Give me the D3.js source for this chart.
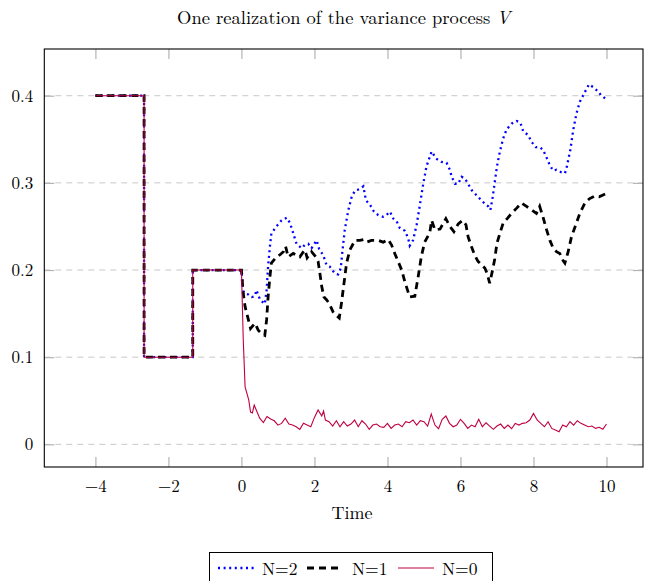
<!DOCTYPE html>
<html>
<head>
<meta charset="utf-8">
<script src="https://cdn.jsdelivr.net/npm/d3@7"></script>
<style>
  html, body { margin: 0; padding: 0; background: #fff; }
  svg { display: block; }
  text { font-family: "Latin Modern Roman", "CMU Serif", "Liberation Serif", serif; fill: #000; }
</style>
</head>
<body>
<svg id="chart" width="645" height="581"></svg>
<script>
// ---- data ----
const titleText = "One realization of the variance process ";
const xLabel = "Time";
const xTicks = [-4, -2, 0, 2, 4, 6, 8, 10];
const yTicks = [0, 0.1, 0.2, 0.3, 0.4];
const seriesNames = ["N=2", "N=1", "N=0"];

// shared piecewise-constant part (t <= 0)
const stepPoints = [[-4, 0.4], [-8/3, 0.4], [-8/3, 0.1], [-4/3, 0.1], [-4/3, 0.2], [0, 0.2]];

const pointsN2 = [
  [0.00,0.200],[0.05,0.176],[0.10,0.173],[0.19,0.172],[0.28,0.169],[0.37,0.170],[0.41,0.177],
  [0.51,0.166],[0.64,0.161],[0.69,0.177],[0.73,0.204],[0.78,0.227],[0.82,0.242],[0.96,0.250],
  [1.10,0.257],[1.24,0.260],[1.33,0.254],[1.42,0.242],[1.51,0.230],[1.65,0.225],[1.74,0.229],
  [1.83,0.230],[1.92,0.225],[2.06,0.234],[2.13,0.224],[2.24,0.217],[2.33,0.206],[2.42,0.204],
  [2.56,0.196],[2.65,0.195],[2.72,0.202],[2.77,0.223],[2.83,0.246],[2.93,0.269],[3.02,0.284],
  [3.11,0.291],[3.25,0.293],[3.34,0.296],[3.41,0.280],[3.52,0.275],[3.63,0.267],[3.75,0.263],
  [3.88,0.261],[3.97,0.263],[4.07,0.267],[4.16,0.259],[4.25,0.256],[4.34,0.248],[4.48,0.245],
  [4.57,0.236],[4.61,0.228],[4.70,0.234],[4.80,0.252],[4.89,0.275],[4.98,0.299],[5.07,0.319],
  [5.21,0.336],[5.33,0.328],[5.48,0.324],[5.62,0.323],[5.71,0.315],[5.76,0.307],[5.85,0.299],
  [5.94,0.299],[6.03,0.307],[6.12,0.305],[6.21,0.299],[6.30,0.292],[6.39,0.288],[6.48,0.284],
  [6.62,0.278],[6.69,0.275],[6.76,0.273],[6.82,0.269],[6.88,0.283],[6.94,0.301],[7.00,0.319],
  [7.08,0.336],[7.17,0.351],[7.26,0.361],[7.40,0.368],[7.54,0.371],[7.64,0.369],[7.72,0.359],
  [7.85,0.355],[7.95,0.347],[8.06,0.341],[8.17,0.341],[8.26,0.338],[8.36,0.329],[8.45,0.320],
  [8.54,0.314],[8.63,0.315],[8.77,0.312],[8.86,0.311],[8.90,0.316],[8.95,0.326],[9.01,0.338],
  [9.09,0.361],[9.18,0.380],[9.27,0.393],[9.38,0.402],[9.52,0.413],[9.63,0.410],[9.77,0.405],
  [9.86,0.400],[10.0,0.396]
];

const pointsN1 = [
  [0.00,0.200],[0.05,0.173],[0.10,0.158],[0.19,0.143],[0.25,0.133],[0.37,0.139],[0.46,0.131],
  [0.55,0.127],[0.64,0.125],[0.69,0.143],[0.73,0.169],[0.78,0.192],[0.82,0.208],[0.92,0.213],
  [1.04,0.217],[1.15,0.221],[1.21,0.227],[1.28,0.215],[1.42,0.219],[1.51,0.217],[1.60,0.215],
  [1.68,0.220],[1.74,0.223],[1.80,0.214],[1.92,0.221],[2.04,0.215],[2.10,0.210],[2.15,0.196],
  [2.20,0.181],[2.26,0.169],[2.33,0.166],[2.40,0.162],[2.51,0.152],[2.60,0.148],[2.68,0.145],
  [2.74,0.162],[2.81,0.185],[2.88,0.208],[2.97,0.223],[3.11,0.234],[3.25,0.234],[3.34,0.235],
  [3.43,0.232],[3.56,0.234],[3.75,0.234],[3.88,0.232],[4.02,0.235],[4.11,0.229],[4.20,0.219],
  [4.29,0.210],[4.39,0.200],[4.48,0.186],[4.61,0.169],[4.75,0.170],[4.84,0.192],[4.93,0.216],
  [5.02,0.232],[5.16,0.243],[5.21,0.257],[5.30,0.246],[5.44,0.247],[5.60,0.259],[5.71,0.250],
  [5.82,0.244],[5.94,0.253],[6.06,0.257],[6.15,0.252],[6.21,0.238],[6.30,0.227],[6.39,0.217],
  [6.48,0.210],[6.58,0.206],[6.67,0.202],[6.73,0.196],[6.80,0.185],[6.88,0.200],[6.94,0.213],
  [7.00,0.231],[7.08,0.242],[7.17,0.254],[7.28,0.259],[7.40,0.265],[7.54,0.271],[7.67,0.277],
  [7.81,0.273],[7.95,0.269],[8.08,0.265],[8.17,0.273],[8.26,0.261],[8.36,0.246],[8.45,0.234],
  [8.54,0.225],[8.63,0.221],[8.72,0.219],[8.81,0.211],[8.86,0.208],[8.95,0.221],[9.04,0.238],
  [9.16,0.252],[9.27,0.265],[9.41,0.277],[9.54,0.282],[9.68,0.285],[9.80,0.284],[9.95,0.287],
  [10.0,0.288]
];

const pointsN0 = [
  [0.00,0.200],[0.05,0.120],[0.10,0.066],[0.20,0.051],[0.25,0.037],[0.30,0.036],[0.35,0.045],
  [0.40,0.040],[0.50,0.030],[0.60,0.025],[0.70,0.032],[0.80,0.029],[0.90,0.027],[1.0,0.022],
  [1.1,0.024],[1.2,0.030],[1.3,0.0233],[1.4,0.0221],[1.5,0.0202],[1.6,0.0172],[1.7,0.0241],
  [1.8,0.0221],[1.9,0.0202],[2.0,0.0309],[2.1,0.0394],[2.2,0.0325],[2.25,0.0382],[2.3,0.0279],
  [2.4,0.0260],[2.5,0.0210],[2.6,0.0271],[2.7,0.0202],[2.8,0.0260],[2.9,0.0210],[3.0,0.0233],
  [3.1,0.0279],[3.2,0.0202],[3.3,0.0271],[3.4,0.0233],[3.5,0.0172],[3.6,0.0221],[3.7,0.0233],
  [3.8,0.0202],[3.9,0.0195],[4.0,0.0241],[4.1,0.0183],[4.2,0.0221],[4.3,0.0233],[4.4,0.0202],
  [4.5,0.0260],[4.6,0.0248],[4.7,0.0279],[4.8,0.0221],[4.9,0.0271],[5.0,0.0260],[5.1,0.0210],
  [5.2,0.0348],[5.3,0.0221],[5.4,0.0179],[5.5,0.0287],[5.6,0.0325],[5.7,0.0241],[5.8,0.0202],
  [5.9,0.0221],[6.0,0.0287],[6.1,0.0241],[6.2,0.0183],[6.3,0.0221],[6.4,0.0202],[6.5,0.0287],
  [6.6,0.0202],[6.7,0.0248],[6.8,0.0210],[6.9,0.0172],[7.0,0.0210],[7.1,0.0233],[7.2,0.0183],
  [7.3,0.0221],[7.4,0.0179],[7.5,0.0241],[7.6,0.0221],[7.7,0.0241],[7.8,0.0248],[7.9,0.0279],
  [8.0,0.0355],[8.1,0.0279],[8.2,0.0241],[8.3,0.0202],[8.4,0.0260],[8.5,0.0183],[8.6,0.0164],
  [8.7,0.0145],[8.8,0.0221],[8.9,0.0202],[9.0,0.0260],[9.1,0.0221],[9.2,0.0271],[9.3,0.0241],
  [9.4,0.0221],[9.5,0.0202],[9.6,0.0210],[9.7,0.0183],[9.8,0.0195],[9.9,0.0172],[10.0,0.0233]
];

// ---- layout ----
const L = 44.3, R = 643, T = 49, B = 467;
const svg = d3.select("#chart");
const fontStack = '"Latin Modern Roman","CMU Serif","Liberation Serif",serif';

const x = d3.scaleLinear().domain([-5.4, 11]).range([L, R]);
const y = d3.scaleLinear().domain([-0.026, 0.4536]).range([B, T]);

// grid
svg.append("g").selectAll("line").data(yTicks).join("line")
  .attr("x1", L).attr("x2", R)
  .attr("y1", d => y(d)).attr("y2", d => y(d))
  .attr("stroke", "#c8c8c8").attr("stroke-width", 1)
  .attr("stroke-dasharray", "6 5");

const tickColor = "#b4b4b4";
function styleAxis(g) {
  g.select(".domain").remove();
  g.selectAll(".tick line").attr("stroke", tickColor).attr("stroke-width", 1.2);
  g.selectAll(".tick text")
    .style("font-family", fontStack)
    .style("font-size", "17px").attr("fill", "#000");
}

svg.append("g").attr("transform", `translate(0,${B})`)
  .call(d3.axisBottom(x).tickValues(xTicks).tickSizeInner(-10).tickSizeOuter(0).tickPadding(13))
  .call(styleAxis);
svg.append("g").attr("transform", `translate(0,${T})`)
  .call(d3.axisTop(x).tickValues(xTicks).tickSizeInner(-10).tickSizeOuter(0).tickFormat(""))
  .call(styleAxis);
svg.append("g").attr("transform", `translate(${L},0)`)
  .call(d3.axisLeft(y).tickValues(yTicks).tickSizeInner(-10).tickSizeOuter(0).tickPadding(11)
        .tickFormat(d => d === 0 ? "0" : d3.format(".1f")(d)))
  .call(styleAxis);
svg.append("g").attr("transform", `translate(${R},0)`)
  .call(d3.axisRight(y).tickValues(yTicks).tickSizeInner(-10).tickSizeOuter(0).tickFormat(""))
  .call(styleAxis);

// frame
svg.append("rect").attr("x", L).attr("y", T).attr("width", R - L).attr("height", B - T)
  .attr("fill", "none").attr("stroke", "#000").attr("stroke-width", 1.1);

// lines
const line = d3.line().x(d => x(d[0])).y(d => y(d[1]));
const styles = [
  { color: "#0000ff", width: 2.3, dash: "2 3.6" },
  { color: "#000000", width: 2.8, dash: "7 5" },
  { color: "#bf0040", width: 1.1, dash: null }
];
const allSeries = [
  stepPoints.concat(pointsN2.slice(1)),
  stepPoints.concat(pointsN1.slice(1)),
  stepPoints.concat(pointsN0.slice(1))
];
allSeries.forEach((pts, i) => {
  const s = styles[i];
  svg.append("path").datum(pts)
    .attr("d", line)
    .attr("fill", "none")
    .attr("stroke", s.color)
    .attr("stroke-width", s.width)
    .attr("stroke-linejoin", "miter")
    .attr("stroke-dasharray", s.dash);
});

// title
const title = svg.append("text").attr("x", (L + R) / 2).attr("y", 24)
  .attr("text-anchor", "middle").style("font-size", "18.5px");
title.append("tspan").text(titleText);
title.append("tspan").style("font-style", "italic").text("V");

// x label
svg.append("text").attr("x", 352).attr("y", 519)
  .attr("text-anchor", "middle").style("font-size", "18px").text(xLabel);

// legend
const lg = svg.append("g");
lg.append("rect").attr("x", 209.5).attr("y", 552.5).attr("width", 283).attr("height", 34)
  .attr("fill", "#fff").attr("stroke", "#000").attr("stroke-width", 1);
const legendX = [218, 307, 398];
const legendTextX = [262, 352, 442];
seriesNames.forEach((name, i) => {
  const s = styles[i];
  lg.append("line").attr("x1", legendX[i]).attr("x2", legendX[i] + 36)
    .attr("y1", 568).attr("y2", 568)
    .attr("stroke", s.color).attr("stroke-width", s.width)
    .attr("stroke-dasharray", s.dash);
  lg.append("text").attr("x", legendTextX[i]).attr("y", 575)
    .style("font-size", "17.5px").text(name);
});
</script>
</body>
</html>
